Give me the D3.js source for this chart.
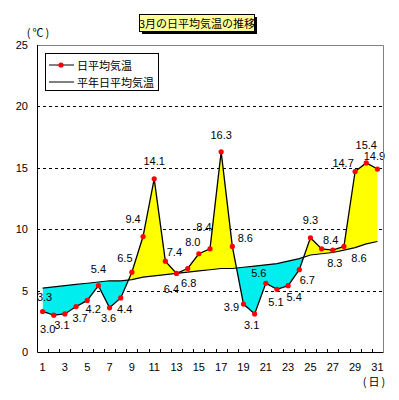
<!DOCTYPE html>
<html>
<head>
<meta charset="utf-8">
<script src="https://cdn.jsdelivr.net/npm/d3@7"></script>
<style>
body { margin: 0; background: #fff; }
text { font-family: "Liberation Sans", "Noto Sans CJK JP", sans-serif; font-size: 11px; fill: #000; }
.jp { font-family: "Noto Sans CJK JP", sans-serif; }
</style>
</head>
<body>
<svg width="399" height="400"></svg>
<script>
// data
const days = [1,2,3,4,5,6,7,8,9,10,11,12,13,14,15,16,17,18,19,20,21,22,23,24,25,26,27,28,29,30,31]
const dailyTemp = [3.3,3.0,3.1,3.7,4.2,5.4,3.6,4.4,6.5,9.4,14.1,7.4,6.4,6.8,8.0,8.4,16.3,8.6,3.9,3.1,5.6,5.1,5.4,6.7,9.3,8.4,8.3,8.6,14.7,15.4,14.9]
const normalTemp = [5.2,5.3,5.4,5.5,5.6,5.7,5.8,5.8,5.9,6.1,6.2,6.3,6.4,6.5,6.6,6.7,6.8,6.8,6.9,7.0,7.1,7.2,7.4,7.6,7.9,8.0,8.1,8.3,8.5,8.8,9.0]
const yTicks = [0,5,10,15,20,25]
const gridValues = [5,10,15,20]
const xTickLabels = [1,3,5,7,9,11,13,15,17,19,21,23,25,27,29,31]

// where each value label sits relative to its point (dx, dy)
const labelNudge = [[2,-14],[-6,14],[-3,11],[4,11],[6,9],[0,-17],[-1,10],[4,11],[-7,-14],[-10,-18],
  [0,-18],[9,-9],[-5,16],[1,15],[-6,-12],[-6,-22],[0,-17],[13,-8],[-12,3],[-3,11],
  [-7,-10],[-1,13],[6,11],[8,10],[0,-18],[9,-9],[2,13],[15,12],[-12,-8],[0,-18],[-3,-13]]

const rows = days.map((d, i) => ({ day: d, t: dailyTemp[i], n: normalTemp[i], nudge: labelNudge[i] }))

const svg = d3.select("svg")

const plotLeft = 37, plotRight = 383, plotTop = 45, plotBottom = 352

const x = d3.scaleBand().domain(days).range([plotLeft, plotRight])
const cx = d => x(d) + x.bandwidth() / 2
const y = d3.scaleLinear().domain([0, 25]).range([plotBottom, plotTop])

// dashed grid
svg.append("g")
  .selectAll("line")
  .data(gridValues)
  .join("line")
  .attr("x1", plotLeft).attr("x2", plotRight)
  .attr("y1", d => Math.round(y(d)) + 0.5).attr("y2", d => Math.round(y(d)) + 0.5)
  .attr("stroke", "#000").attr("stroke-dasharray", "3,3")

// clip regions above / below the normal line
const defs = svg.append("defs")
const aboveArea = d3.area().x(d => cx(d.day)).y0(plotTop).y1(d => y(d.n))
const belowArea = d3.area().x(d => cx(d.day)).y0(plotBottom).y1(d => y(d.n))
defs.append("clipPath").attr("id", "above").append("path").attr("d", aboveArea(rows))
defs.append("clipPath").attr("id", "below").append("path").attr("d", belowArea(rows))

const diffArea = d3.area().x(d => cx(d.day)).y0(d => y(d.n)).y1(d => y(d.t))

svg.append("path").attr("d", diffArea(rows)).attr("fill", "#ffff00").attr("clip-path", "url(#above)")
svg.append("path").attr("d", diffArea(rows)).attr("fill", "#00eeee").attr("clip-path", "url(#below)")

// lines
const normalLine = d3.line().x(d => cx(d.day)).y(d => y(d.n))
const dailyLine = d3.line().x(d => cx(d.day)).y(d => y(d.t))

svg.append("path").attr("d", normalLine(rows)).attr("fill", "none").attr("stroke", "#000").attr("stroke-width", 1.2)
svg.append("path").attr("d", dailyLine(rows)).attr("fill", "none").attr("stroke", "#000").attr("stroke-width", 1.3)

svg.append("g")
  .selectAll("circle")
  .data(rows)
  .join("circle")
  .attr("cx", d => cx(d.day)).attr("cy", d => y(d.t))
  .attr("r", 2.6).attr("fill", "#ff0000")

// value labels
svg.append("g")
  .selectAll("text")
  .data(rows)
  .join("text")
  .attr("x", d => cx(d.day) + d.nudge[0])
  .attr("y", d => y(d.t) + d.nudge[1])
  .attr("text-anchor", "middle")
  .attr("dominant-baseline", "central")
  .text(d => d.t.toFixed(1))

// frame: gray top/right, black axes
svg.append("path")
  .attr("d", `M${plotLeft},${plotTop + 0.5}H${plotRight + 0.5}V${plotBottom}`)
  .attr("fill", "none").attr("stroke", "#808080")
svg.append("path")
  .attr("d", `M${plotLeft + 0.5},${plotTop}V${plotBottom + 0.5}H${plotRight + 0.5}`)
  .attr("fill", "none").attr("stroke", "#000")

// x ticks between days, pointing inward
svg.append("g")
  .selectAll("line")
  .data(days.slice(1))
  .join("line")
  .attr("x1", d => Math.round(x(d)) + 0.5).attr("x2", d => Math.round(x(d)) + 0.5)
  .attr("y1", plotBottom).attr("y2", plotBottom - 3)
  .attr("stroke", "#000")

svg.append("g")
  .selectAll("text")
  .data(xTickLabels)
  .join("text")
  .attr("x", d => cx(d)).attr("y", 367)
  .attr("text-anchor", "middle").attr("dominant-baseline", "central")
  .text(d => d)

svg.append("g")
  .selectAll("text")
  .data(yTicks)
  .join("text")
  .attr("x", 28).attr("y", d => y(d))
  .attr("text-anchor", "end").attr("dominant-baseline", "central")
  .text(d => d)

// units
svg.append("text").attr("class", "jp").attr("x", 39).attr("y", 32)
  .attr("text-anchor", "middle").attr("dominant-baseline", "central")
  .attr("letter-spacing", 2).text("(℃)")
svg.append("text").attr("class", "jp").attr("x", 375).attr("y", 381)
  .attr("text-anchor", "middle").attr("dominant-baseline", "central")
  .attr("letter-spacing", 2).text("(日)")

// legend
const legend = svg.append("g")
legend.append("rect").attr("x", 45.5).attr("y", 53.5).attr("width", 113).attr("height", 37)
  .attr("fill", "#fff").attr("stroke", "#000")
legend.append("line").attr("x1", 49).attr("x2", 74).attr("y1", 65).attr("y2", 65).attr("stroke", "#000")
legend.append("circle").attr("cx", 61).attr("cy", 65).attr("r", 2.6).attr("fill", "#ff0000")
legend.append("text").attr("class", "jp").attr("x", 77).attr("y", 65)
  .attr("dominant-baseline", "central").text("日平均気温")
legend.append("line").attr("x1", 49).attr("x2", 74).attr("y1", 82).attr("y2", 82).attr("stroke", "#000")
legend.append("text").attr("class", "jp").attr("x", 77).attr("y", 82)
  .attr("dominant-baseline", "central").text("平年日平均気温")

// title box with shadow
svg.append("rect").attr("x", 142).attr("y", 17).attr("width", 115).attr("height", 17).attr("fill", "#000")
svg.append("rect").attr("x", 139.5).attr("y", 14.5).attr("width", 115).attr("height", 17)
  .attr("fill", "#ffff99").attr("stroke", "#000")
svg.append("text").attr("class", "jp").attr("x", 197).attr("y", 23)
  .attr("text-anchor", "middle").attr("dominant-baseline", "central")
  .text("3月の日平均気温の推移")
</script>
</body>
</html>
